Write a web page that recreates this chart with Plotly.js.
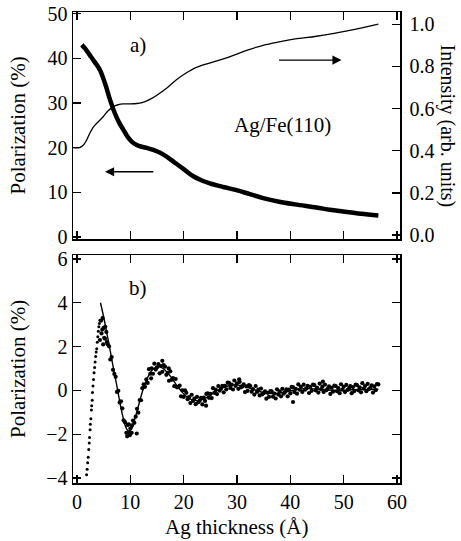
<!DOCTYPE html>
<html><head><meta charset="utf-8">
<script src="https://cdn.plot.ly/plotly-3.0.1.min.js"></script>
<style>html,body{margin:0;padding:0;background:#fff}#chart{width:461px;height:541px}</style>
</head><body><div id="chart"></div>
<script>
// Panel a) : polarization (left axis) and intensity (right axis) vs Ag thickness
const polX = [0.9,1.5,2.4,3.3,4.3,5.25,6.2,7.1,7.9,8.7,9.5,10.3,11.2,12.1,13.2,14.3,15.5,16.8,18.5,20.0,21.8,23.3,24.9,27.4,29.9,32.4,34.9,37.9,40.9,44.9,47.4,49.9,53.2,56.5];
const polP = [43.0,42.2,40.7,39.2,37.4,34.4,30.7,27.7,25.6,24.0,22.4,21.3,20.6,20.2,19.9,19.5,18.9,18.0,16.5,15.2,13.6,12.7,12.0,11.2,10.5,9.6,8.7,7.9,7.3,6.6,6.1,5.7,5.2,4.8];
const intX = [-0.75,0.5,1.2,1.8,2.4,3.0,3.7,4.9,5.8,6.8,7.7,8.7,10.0,11.2,12.2,13.1,14.0,14.9,16.8,18.7,20.25,22.4,25.6,28.7,31.8,34.9,38.1,40.9,44.9,49.9,53.2,56.5];
const intI = [0.415,0.415,0.427,0.45,0.483,0.51,0.530,0.561,0.588,0.609,0.618,0.622,0.622,0.624,0.628,0.636,0.648,0.662,0.696,0.738,0.765,0.795,0.821,0.846,0.876,0.900,0.917,0.930,0.943,0.965,0.982,1.0];

// Panel b) : oscillatory part, measured points and fitted curve
const riseX = [1.8,1.9,2.0,2.1,2.2,2.3,2.35,2.45,2.5,2.6,2.7,2.75,2.85,2.9,3.0,3.1,3.2,3.3,3.4,3.5,3.6,3.7,3.8,3.9,4.0,4.1,4.2,4.3];
const riseP = [-3.85,-3.6,-3.3,-3.05,-2.7,-2.4,-2.15,-1.8,-1.55,-1.3,-0.9,-0.7,-0.45,-0.1,0.2,0.5,0.8,1.05,1.3,1.55,1.75,1.9,2.2,2.45,2.7,2.9,3.05,3.2];
const dotX = [4.5,4.75,5.0,5.25,5.5,5.75,6.0,6.25,6.5,6.75,7.0,7.25,7.5,7.75,8.0,8.25,8.5,8.75,9.0,9.25,9.5,9.75,10.0,10.25,10.5,10.75,11.0,11.25,11.5,11.75,12.0,12.25,12.5,12.75,13.0,13.25,13.5,13.75,14.0,14.25,14.5,14.75,15.0,15.25,15.5,15.75,16.0,16.25,16.5,16.75,17.0,17.25,17.5,17.75,18.0,18.25,18.5,18.75,19.0,19.25,19.5,19.75,20.0,20.25,20.5,20.75,21.0,21.25,21.5,21.75,22.0,22.25,22.5,22.75,23.0,23.25,23.5,23.75,24.0,24.25,24.5,24.75,25.0,25.25,25.5,25.75,26.0,26.25,26.5,26.75,27.0,27.25,27.5,27.75,28.0,28.25,28.5,28.75,29.0,29.25,29.5,29.75,30.0,30.25,30.5,30.75,31.0,31.25,31.5,31.75,32.0,32.25,32.5,32.75,33.0,33.25,33.5,33.75,34.0,34.25,34.5,34.75,35.0,35.25,35.5,35.75,36.0,36.25,36.5,36.75,37.0,37.25,37.5,37.75,38.0,38.25,38.5,38.75,39.0,39.25,39.5,39.75,40.0,40.25,40.5,40.75,41.0,41.25,41.5,41.75,42.0,42.25,42.5,42.75,43.0,43.25,43.5,43.75,44.0,44.25,44.5,44.75,45.0,45.25,45.5,45.75,46.0,46.25,46.5,46.75,47.0,47.25,47.5,47.75,48.0,48.25,48.5,48.75,49.0,49.25,49.5,49.75,50.0,50.25,50.5,50.75,51.0,51.25,51.5,51.75,52.0,52.25,52.5,52.75,53.0,53.25,53.5,53.75,54.0,54.25,54.5,54.75,55.0,55.25,55.5,55.75,56.0,56.25,56.5];
const dotP = [3.18,2.78,2.85,2.36,2.67,2.11,2.01,1.41,1.52,0.94,0.75,0.62,-0.07,-0.02,-0.55,-0.5,-0.82,-1.37,-1.45,-1.94,-1.58,-1.94,-1.74,-1.94,-1.38,-1.48,-1.2,-0.84,-1.02,-0.44,-0.45,0.1,0.28,0.16,0.5,0.34,0.97,0.76,1.01,0.76,1.22,0.95,1.05,1.2,0.78,1.11,0.85,1.15,1.08,0.71,0.8,0.44,0.87,0.48,0.56,0.19,0.52,0.14,0.15,0.22,-0.27,0.0,-0.3,0.0,-0.11,-0.4,-0.31,-0.58,-0.2,-0.48,-0.38,-0.63,-0.3,-0.54,-0.47,-0.34,-0.64,-0.33,-0.48,-0.16,-0.14,-0.34,-0.16,-0.35,0.1,-0.11,0.04,-0.17,0.2,-0.01,0.08,0.21,-0.09,0.21,0.05,0.35,0.34,0.11,0.26,0.04,0.45,0.2,0.32,0.07,0.39,0.14,0.18,0.27,-0.08,0.18,-0.02,0.24,0.2,-0.06,0.06,-0.19,0.2,-0.07,0.03,-0.23,0.08,-0.18,-0.13,-0.04,-0.38,-0.11,-0.3,-0.03,-0.05,-0.29,-0.15,-0.37,0.05,-0.19,-0.05,-0.27,0.07,-0.15,-0.08,0.05,-0.27,0.03,-0.14,0.16,0.15,-0.08,0.07,-0.15,0.27,0.03,0.16,-0.07,0.26,0.03,0.09,0.21,-0.12,0.16,-0.02,0.26,0.24,0.0,0.13,-0.1,0.31,0.05,0.17,-0.07,0.26,0.01,0.07,0.18,-0.16,0.12,-0.06,0.22,0.2,-0.04,0.1,-0.13,0.28,0.03,0.16,-0.08,0.25,0.02,0.08,0.19,-0.13,0.15,-0.03,0.26,0.24,0.0,0.14,-0.09,0.33,0.08,0.2,-0.04,0.3,0.06,0.12,0.23,-0.1,0.18,0.01,0.29,0.27];
const extraX = [4.3,4.6,4.8,4.9,5.1,5.3,5.6,9.4,9.9,10.3,9.7,11.2,16.0,17.2,13.9,40.5,24.2,30.4,46.1];
const extraP = [2.3,2.6,3.3,2.1,2.4,2.9,2.2,-2.1,-2.05,-1.6,-1.55,-1.97,1.35,1.0,0.55,-0.53,-0.7,0.5,0.4];
const fitX = [4.4,5.0,5.6,6.2,6.8,7.4,8.0,8.6,9.1,9.6,10.1,10.6,11.2,11.8,12.4,13.0,13.7,14.4,15.1,15.8,16.6,17.5,18.5,19.5,20.5,21.5,22.5,23.5,24.5,25.7,27.0,28.3,29.5,30.8,32.2,33.6,35.0,36.5,38.0,39.5,41.0,43.0,45.0,47.0,49.0,51.0,53.0,56.5];
const fitP = [4.0,3.35,2.6,1.85,1.05,0.3,-0.5,-1.2,-1.65,-1.85,-1.8,-1.5,-1.0,-0.45,0.05,0.45,0.8,1.0,1.08,1.05,0.9,0.65,0.3,-0.02,-0.28,-0.42,-0.47,-0.42,-0.3,-0.1,0.08,0.2,0.25,0.22,0.12,0.0,-0.1,-0.15,-0.12,-0.05,0.03,0.08,0.06,0.02,0.0,0.02,0.04,0.05];

const xTicks = [0,10,20,30,40,50,60];
const polTicks = [0,10,20,30,40,50];
const intTicks = [0,0.2,0.4,0.6,0.8,1.0];
const intTickText = ['0.0','0.2','0.4','0.6','0.8','1.0'];
const oscTicks = [-4,-2,0,2,4,6];

const FONT = 'Liberation Serif, Times New Roman, serif';
const axBase = {showline:true, linecolor:'black', linewidth:1.5, ticks:'inside', ticklen:8, tickwidth:1.3, tickcolor:'black',
  showgrid:false, zeroline:false, tickfont:{family:FONT, size:20, color:'black'}};

const traces = [
  {x:intX, y:intI, xaxis:'x', yaxis:'y2', mode:'lines', line:{color:'black', width:1.3, shape:'spline'}, hoverinfo:'skip'},
  {x:polX, y:polP, xaxis:'x', yaxis:'y', mode:'lines', line:{color:'black', width:4.5, shape:'spline'}, hoverinfo:'skip'},
  {x:fitX, y:fitP, xaxis:'x2', yaxis:'y3', mode:'lines', line:{color:'black', width:1.4, shape:'spline'}, hoverinfo:'skip'},
  {x:riseX, y:riseP, xaxis:'x2', yaxis:'y3', mode:'markers', marker:{color:'black', size:3}, hoverinfo:'skip'},
  {x:dotX, y:dotP, xaxis:'x2', yaxis:'y3', mode:'markers', marker:{color:'black', size:4.2}, hoverinfo:'skip'},
  {x:extraX, y:extraP, xaxis:'x2', yaxis:'y3', mode:'markers', marker:{color:'black', size:4.2}, hoverinfo:'skip'}
];

const layout = {
  width:461, height:541, showlegend:false,
  paper_bgcolor:'white', plot_bgcolor:'white',
  margin:{l:73, r:61, t:12, b:58},
  font:{family:FONT, size:20, color:'black'},
  xaxis: Object.assign({}, axBase, {domain:[0,1], anchor:'y', range:[-0.75,60.56], tickvals:xTicks, showticklabels:false, mirror:'ticks'}),
  yaxis: Object.assign({}, axBase, {domain:[0.518,1], anchor:'x', range:[-0.45,50.36], tickvals:polTicks, ticklabelstandoff:0}),
  yaxis2: Object.assign({}, axBase, {overlaying:'y', side:'right', anchor:'x', range:[-0.019,1.058], tickvals:intTicks, ticktext:intTickText, ticklabelstandoff:4}),
  xaxis2: Object.assign({}, axBase, {domain:[0,1], anchor:'y3', range:[-0.75,60.56], tickvals:xTicks, mirror:'ticks'}),
  yaxis3: Object.assign({}, axBase, {domain:[0,0.484], anchor:'x2', range:[-4.23,6.18], tickvals:oscTicks, mirror:'ticks', ticklabelstandoff:0}),
  annotations:[
    {text:'a)', x:11.5, y:43, xref:'x', yref:'y', showarrow:false, font:{family:FONT, size:21}},
    {text:'Ag/Fe(110)', x:38.6, y:25.1, xref:'x', yref:'y', showarrow:false, font:{family:FONT, size:21}},
    {text:'b)', x:11.5, y:4.66, xref:'x2', yref:'y3', showarrow:false, font:{family:FONT, size:21}},
    {text:'', x:5.25, y:14.6, ax:14.6, ay:14.6, xref:'x', yref:'y', axref:'x', ayref:'y', showarrow:true, arrowhead:2, arrowsize:1.3, arrowwidth:1.4, arrowcolor:'black'},
    {text:'', x:49.6, y:39.6, ax:37.6, ay:39.6, xref:'x', yref:'y', axref:'x', ayref:'y', showarrow:true, arrowhead:2, arrowsize:1.3, arrowwidth:1.4, arrowcolor:'black'},
    {text:'Polarization (%)', textangle:-90, x:0, y:0.759, xref:'paper', yref:'paper', xanchor:'center', yanchor:'middle', xshift:-55, showarrow:false, font:{family:FONT, size:21}},
    {text:'Polarization (%)', textangle:-90, x:0, y:0.242, xref:'paper', yref:'paper', xanchor:'center', yanchor:'middle', xshift:-55, showarrow:false, font:{family:FONT, size:21}},
    {text:'Intensity (arb. units)', textangle:90, x:1, y:0.759, xref:'paper', yref:'paper', xanchor:'center', yanchor:'middle', xshift:47, showarrow:false, font:{family:FONT, size:20}},
    {text:'Ag thickness (Å)', x:0.5, y:0, xref:'paper', yref:'paper', xanchor:'center', yanchor:'middle', yshift:-44, showarrow:false, font:{family:FONT, size:21}}
  ]
};

Plotly.newPlot('chart', traces, layout, {staticPlot:true, displayModeBar:false});
</script>
</body></html>
